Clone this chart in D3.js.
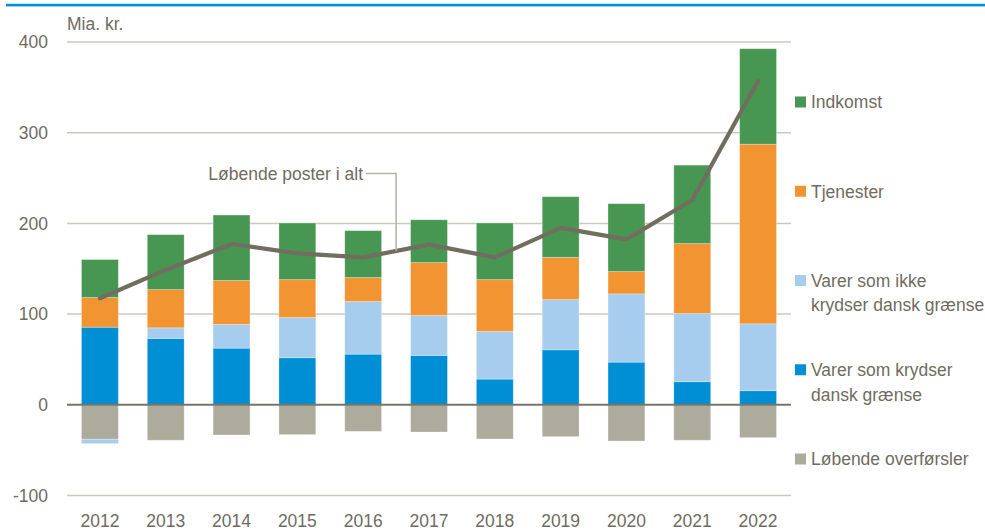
<!DOCTYPE html>
<html>
<head>
<meta charset="utf-8">
<script src="https://cdn.jsdelivr.net/npm/d3@7"></script>
<style>
  body { margin: 0; background: #fff; }
  svg text { font-family: "Liberation Sans", Arial, sans-serif; fill: #6f6c5f; }
</style>
</head>
<body>
<svg id="chart"></svg>
<script>
var years = ["2012", "2013", "2014", "2015", "2016", "2017", "2018", "2019", "2020", "2021", "2022"];

var varerKrydser = [85.6, 73.2, 62.5, 51.9, 55.9, 54.5, 28.4, 60.7, 47.1, 25.5, 15.6];
var varerIkkeKrydser = [-4.8, 11.7, 26.1, 44.4, 58.0, 44.0, 52.5, 55.3, 75.2, 75.2, 73.7];
var tjenester = [32.7, 42.1, 48.4, 41.7, 26.4, 58.3, 57.1, 46.6, 24.6, 77.0, 198.0];
var indkomst = [41.8, 60.6, 72.2, 62.4, 51.7, 47.2, 62.4, 66.8, 74.8, 86.5, 105.2];
var overforsler = [-37.9, -39.0, -33.2, -32.8, -29.2, -29.9, -37.6, -35.0, -39.8, -39.0, -36.1];
var posterIAlt = [117.5, 148.7, 177.3, 167.0, 162.6, 176.6, 162.6, 195.0, 182.4, 225.7, 356.9];

var yTicks = [-100, 0, 100, 200, 300, 400];

var width = 985;
var height = 531;

var plotLeft = 67;
var plotRight = 791;

var colors = {
    krydser: "#008fd5",
    ikke: "#a6cdee",
    tjenester: "#f29432",
    indkomst: "#479753",
    overforsler: "#adab9c"
};

var svg = d3.select("#chart")
    .attr("width", width)
    .attr("height", height);

// blue rule at the very top
svg.append("rect")
    .attr("x", 6)
    .attr("y", 3.8)
    .attr("width", width - 6)
    .attr("height", 2.6)
    .attr("fill", "#0090d4");

var x = d3.scaleBand()
    .domain(years)
    .range([plotLeft, plotRight])
    .paddingInner(0.44)
    .paddingOuter(0.22);

var y = d3.scaleLinear()
    .domain([-100, 400])
    .range([495.6, 41.9]);

// grid lines
svg.selectAll("line.grid")
    .data(yTicks.filter(function(d) { return d !== 0; }))
    .enter()
    .append("line")
    .attr("class", "grid")
    .attr("x1", plotLeft)
    .attr("x2", plotRight)
    .attr("y1", function(d) { return y(d); })
    .attr("y2", function(d) { return y(d); })
    .attr("stroke", "#cbc9bf")
    .attr("stroke-width", 1.5);

// y labels
svg.selectAll("text.ytick")
    .data(yTicks)
    .enter()
    .append("text")
    .attr("class", "ytick")
    .attr("x", 48)
    .attr("y", function(d) { return y(d); })
    .attr("dy", "0.36em")
    .attr("text-anchor", "end")
    .style("font-size", "17.5px")
    .text(String);

svg.append("text")
    .attr("x", 67)
    .attr("y", 30)
    .style("font-size", "17.5px")
    .text("Mia. kr.");

// x labels
svg.selectAll("text.xtick")
    .data(years)
    .enter()
    .append("text")
    .attr("class", "xtick")
    .attr("x", function(d) { return x(d) + x.bandwidth() / 2; })
    .attr("y", 527)
    .attr("text-anchor", "middle")
    .style("font-size", "17.5px")
    .text(String);

// stacked bars
var rows = years.map(function(yr, i) {
    return {
        year: yr,
        krydser: varerKrydser[i],
        overforsler: overforsler[i],
        ikke: varerIkkeKrydser[i],
        tjenester: tjenester[i],
        indkomst: indkomst[i]
    };
});

var keys = ["krydser", "overforsler", "ikke", "tjenester", "indkomst"];

var stacked = d3.stack()
    .keys(keys)
    .offset(d3.stackOffsetDiverging)(rows);

var layers = svg.selectAll("g.layer")
    .data(stacked)
    .enter()
    .append("g")
    .attr("class", "layer")
    .attr("fill", function(d) { return colors[d.key]; });

layers.selectAll("rect")
    .data(function(d) { return d; })
    .enter()
    .append("rect")
    .attr("x", function(d) { return x(d.data.year); })
    .attr("width", x.bandwidth())
    .attr("y", function(d) { return y(Math.max(d[0], d[1])); })
    .attr("height", function(d) { return Math.abs(y(d[0]) - y(d[1])); })
    .attr("stroke", "#ffffff")
    .attr("stroke-opacity", 0.35)
    .attr("stroke-width", 0.8);

// zero line
svg.append("line")
    .attr("x1", plotLeft)
    .attr("x2", plotRight)
    .attr("y1", y(0))
    .attr("y2", y(0))
    .attr("stroke", "#77746a")
    .attr("stroke-width", 2);

// total line
var line = d3.line()
    .x(function(d, i) { return x(years[i]) + x.bandwidth() / 2; })
    .y(function(d) { return y(d); });

svg.append("path")
    .datum(posterIAlt)
    .attr("d", line)
    .attr("fill", "none")
    .attr("stroke", "#716e60")
    .attr("stroke-width", 4.2)
    .attr("stroke-linejoin", "round")
    .attr("stroke-linecap", "round");

// annotation
var ax = (x("2016") + x("2017")) / 2 + x.bandwidth() / 2;
var ay = y((posterIAlt[4] + posterIAlt[5]) / 2);
var ty = y(255);

svg.append("path")
    .attr("d", "M" + 366 + "," + ty + "H" + ax + "V" + ay)
    .attr("fill", "none")
    .attr("stroke", "#b4b2a6")
    .attr("stroke-width", 1.5);

svg.append("text")
    .attr("x", 363)
    .attr("y", ty)
    .attr("dy", "0.36em")
    .attr("text-anchor", "end")
    .style("font-size", "17.5px")
    .text("Løbende poster i alt");

// legend
var legendItems = [
    { key: "indkomst", lines: ["Indkomst"] },
    { key: "tjenester", lines: ["Tjenester"] },
    { key: "ikke", lines: ["Varer som ikke", "krydser dansk grænse"] },
    { key: "krydser", lines: ["Varer som krydser", "dansk grænse"] },
    { key: "overforsler", lines: ["Løbende overførsler"] }
];

var ly = d3.scalePoint()
    .domain(legendItems.map(function(d) { return d.key; }))
    .range([102, 459]);

var legend = svg.selectAll("g.legend")
    .data(legendItems)
    .enter()
    .append("g")
    .attr("class", "legend")
    .attr("transform", function(d) { return "translate(795," + ly(d.key) + ")"; });

legend.append("rect")
    .attr("x", 0)
    .attr("y", -5.5)
    .attr("width", 11)
    .attr("height", 11)
    .attr("fill", function(d) { return colors[d.key]; });

legend.each(function(d) {
    var g = d3.select(this);
    d.lines.forEach(function(t, i) {
        g.append("text")
            .attr("x", 16)
            .attr("y", i * 24.5)
            .attr("dy", "0.36em")
            .style("font-size", "17.5px")
            .text(t);
    });
});
</script>
</body>
</html>
